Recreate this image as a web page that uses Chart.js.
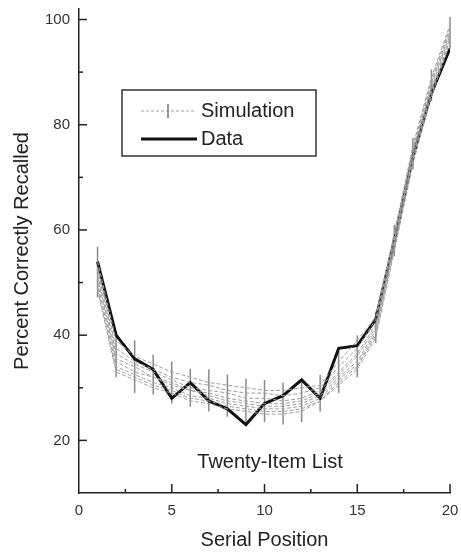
<!DOCTYPE html>
<html>
<head>
<meta charset="utf-8">
<script src="https://cdn.jsdelivr.net/npm/chart.js@4/dist/chart.umd.min.js"></script>
<style>
  html, body { margin: 0; padding: 0; background: #ffffff; }
  #wrap { width: 461px; height: 552px; position: relative; }
</style>
</head>
<body>
<div id="wrap"><canvas id="c" width="461" height="552"></canvas></div>
<script>
// ---- data ----
const positions = [1,2,3,4,5,6,7,8,9,10,11,12,13,14,15,16,17,18,19,20];
const dataValues = [54, 40, 35.5, 33.5, 28, 31, 27.5, 26, 23, 27, 28.5, 31.5, 28, 37.5, 38, 43, 58, 74, 86, 94.5];

const simRun1 = [54, 39, 36, 34.5, 33, 32, 31, 30.5, 30, 29.5, 29.5, 30, 30.5, 35, 39, 43.5, 59.5, 76, 89, 99];
const simRun2 = [53, 37.5, 35, 33.5, 32, 31, 30.5, 29.5, 29, 29, 28.5, 29, 30, 34, 37.5, 43, 59, 75.5, 88.5, 98.5];
const simRun3 = [52.5, 36.5, 34.5, 33, 31.5, 30, 29.5, 29, 28, 28, 27.5, 28, 29.5, 33, 36.5, 42, 58.5, 75, 88, 98];
const simRun4 = [51.5, 35.5, 34, 32, 31, 29.5, 29, 28, 27.5, 27, 27, 27.5, 29, 32.5, 36, 41.5, 58, 74.5, 87.5, 97.5];
const simRun5 = [51, 35, 33, 32, 30.5, 29.5, 28.5, 27.5, 27, 26.5, 26.5, 27, 28.5, 32, 35, 41, 57.5, 74, 87, 97];
const simRun6 = [50, 34, 32.5, 31, 30, 28.5, 28, 27, 26.5, 26, 26, 26.5, 28, 31.5, 34.5, 40.5, 57, 73.5, 86.5, 96.5];
const simRun7 = [49, 33.5, 32, 30.5, 29.5, 28, 27.5, 26.5, 26, 25.5, 25.5, 26, 27.5, 31, 34, 40, 56.5, 73, 86, 96];
const simRun8 = [48.5, 33, 31.5, 30, 29, 27.5, 27, 26, 25.5, 25, 25, 25.5, 27.5, 30.5, 33.5, 39.5, 56, 72.5, 85.5, 95.5];
const simRuns = [simRun1, simRun2, simRun3, simRun4, simRun5, simRun6, simRun7, simRun8];

const simMean = [52, 36, 34, 32.5, 31, 30, 29.5, 28.5, 27.5, 27.5, 27, 27.5, 29, 33, 36, 41.5, 58, 74.5, 87.5, 97.5];
const simErr  = [4.8, 4, 5, 3.8, 4, 3.6, 4, 4, 4.2, 4, 4, 4, 3.5, 4, 4, 3, 3, 3, 3, 3];

const xMajorTicks = [0, 5, 10, 15, 20];
const xMinorTicks = [2.5, 7.5, 12.5, 17.5];
const yMajorTicks = [20, 40, 60, 80, 100];
const yMinorTicks = [30, 50, 70, 90];

const legendLabels = ['Simulation', 'Data'];
const listLabel = 'Twenty-Item List';
const xTitle = 'Serial Position';
const yTitle = 'Percent Correctly Recalled';

// ---- build datasets ----
const FONT = "'Liberation Sans', Arial, Helvetica, sans-serif";
const toXY = arr => arr.map((v, i) => ({x: positions[i], y: v}));

const datasets = simRuns.map((run, k) => ({
  label: 'sim' + k,
  data: toXY(run),
  borderColor: '#a0a0a0',
  borderWidth: 1,
  borderDash: [4, 2],
  pointRadius: 0,
  fill: false,
  tension: 0
}));
datasets.push({
  label: 'Data',
  data: toXY(dataValues),
  borderColor: '#111111',
  borderWidth: 3,
  pointRadius: 0,
  fill: false,
  tension: 0,
  borderJoinStyle: 'miter'
});
const dataIndex = datasets.length - 1;

// ---- plugins ----
const errorBars = {
  id: 'errorBars',
  beforeDatasetDraw(chart, args) {
    if (args.index !== dataIndex) return;
    const {ctx, scales: {x, y}} = chart;
    ctx.save();
    ctx.strokeStyle = '#8a8a8a';
    ctx.lineWidth = 1.5;
    positions.forEach((p, i) => {
      const px = x.getPixelForValue(p);
      ctx.beginPath();
      ctx.moveTo(px, y.getPixelForValue(simMean[i] - simErr[i]));
      ctx.lineTo(px, y.getPixelForValue(simMean[i] + simErr[i]));
      ctx.stroke();
    });
    ctx.restore();
  }
};

const inwardTicks = {
  id: 'inwardTicks',
  afterDraw(chart) {
    const {ctx, scales: {x, y}, chartArea} = chart;
    ctx.save();
    ctx.strokeStyle = '#222';
    ctx.lineWidth = 1.5;
    const tick = (x1, y1, x2, y2) => { ctx.beginPath(); ctx.moveTo(x1, y1); ctx.lineTo(x2, y2); ctx.stroke(); };
    const left = chartArea.left, bottom = chartArea.bottom;
    yMajorTicks.forEach(v => { const py = y.getPixelForValue(v); tick(left, py, left + 8, py); });
    yMinorTicks.forEach(v => { const py = y.getPixelForValue(v); tick(left, py, left + 4, py); });
    xMajorTicks.forEach(v => { if (v === 0) return; const px = x.getPixelForValue(v); tick(px, bottom, px, bottom - 9); });
    xMinorTicks.forEach(v => { const px = x.getPixelForValue(v); tick(px, bottom, px, bottom - 4); });
    ctx.restore();
  }
};

const boxLegend = {
  id: 'boxLegend',
  afterDraw(chart) {
    const {ctx, scales: {x, y}} = chart;
    ctx.save();
    ctx.strokeStyle = '#333';
    ctx.lineWidth = 1.5;
    ctx.strokeRect(122, 90, 194, 66);
    ctx.strokeStyle = '#a0a0a0';
    ctx.lineWidth = 1;
    ctx.setLineDash([3, 2]);
    ctx.beginPath(); ctx.moveTo(141, 111); ctx.lineTo(195, 111); ctx.stroke();
    ctx.setLineDash([]);
    ctx.strokeStyle = '#777';
    ctx.lineWidth = 1.5;
    ctx.beginPath(); ctx.moveTo(168, 104); ctx.lineTo(168, 118); ctx.stroke();
    ctx.strokeStyle = '#111';
    ctx.lineWidth = 3;
    ctx.beginPath(); ctx.moveTo(141, 139); ctx.lineTo(197, 139); ctx.stroke();
    ctx.fillStyle = '#222';
    ctx.font = '20px ' + FONT;
    ctx.textAlign = 'left';
    ctx.textBaseline = 'middle';
    ctx.fillText(legendLabels[0], 201, 111);
    ctx.fillText(legendLabels[1], 201, 139);
    ctx.textAlign = 'center';
    ctx.fillText(listLabel, x.getPixelForValue(10.3), y.getPixelForValue(15.8));
    ctx.restore();
  }
};

new Chart(document.getElementById('c'), {
  type: 'line',
  data: { datasets },
  options: {
    responsive: false,
    animation: false,
    events: [],
    layout: { padding: { top: 9, right: 11, left: 0, bottom: 0 } },
    plugins: {
      legend: { display: false },
      tooltip: { enabled: false }
    },
    scales: {
      x: {
        type: 'linear',
        min: 0, max: 20,
        afterBuildTicks: s => { s.ticks = xMajorTicks.map(v => ({value: v})); },
        afterFit: s => { s.height = 59; s.paddingLeft = 0; s.paddingRight = 0; },
        grid: { display: false, drawTicks: false },
        border: { display: true, color: '#222', width: 1.5 },
        ticks: { color: '#333', font: { family: FONT, size: 15 }, padding: 9, maxRotation: 0, autoSkip: false },
        title: { display: true, text: xTitle, color: '#222', font: { family: FONT, size: 20 }, padding: { top: 1, bottom: 0 } }
      },
      y: {
        type: 'linear',
        min: 10, max: 102,
        afterBuildTicks: s => { s.ticks = yMajorTicks.map(v => ({value: v})); },
        afterFit: s => { s.width = 79; s.paddingTop = 0; s.paddingBottom = 0; },
        grid: { display: false, drawTicks: false },
        border: { display: true, color: '#222', width: 1.5 },
        ticks: { color: '#333', font: { family: FONT, size: 15 }, padding: 9, autoSkip: false },
        title: { display: true, text: yTitle, color: '#222', font: { family: FONT, size: 20 }, padding: { top: 10, bottom: 0 } }
      }
    }
  },
  plugins: [errorBars, inwardTicks, boxLegend]
});
</script>
</body>
</html>
